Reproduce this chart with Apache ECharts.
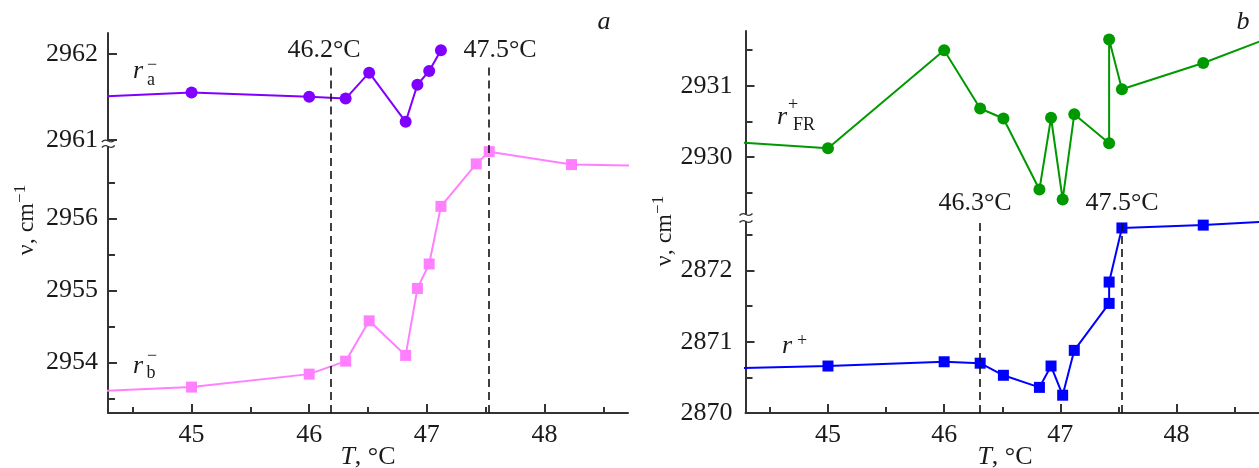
<!DOCTYPE html>
<html><head><meta charset="utf-8">
<script src="https://cdn.jsdelivr.net/npm/echarts@6/dist/echarts.min.js"></script>
<style>html,body{margin:0;padding:0;background:#fff}#c{width:1259px;height:468px}</style>
</head><body><div id="c"></div>
<script>
// ---- data (temperature in °C, wavenumber in cm^-1) ----
const T_A = [44.0, 45.0, 46.0, 46.31, 46.51, 46.82, 46.92, 47.02, 47.12];
const R_A = [2961.49, 2961.55, 2961.50, 2961.48, 2961.78, 2961.21, 2961.64, 2961.80, 2962.04];
const T_B = [44.0, 45.0, 46.0, 46.31, 46.51, 46.82, 46.92, 47.02, 47.12, 47.42, 47.53, 48.23, 49.0];
const R_B = [2953.59, 2953.66, 2953.84, 2954.02, 2954.58, 2954.10, 2955.03, 2955.37, 2956.17, 2956.76, 2956.93, 2956.75, 2956.73];
const T_PLUS = [44.0, 45.0, 46.0, 46.31, 46.51, 46.82, 46.92, 47.02, 47.12, 47.42, 47.42, 47.53, 48.23, 49.0];
const R_FR = [2930.23, 2930.12, 2931.50, 2930.68, 2930.54, 2929.54, 2930.55, 2929.40, 2930.60, 2930.19, 2931.65, 2930.95, 2931.32, 2931.80];
const R_PLUS = [2870.62, 2870.66, 2870.72, 2870.70, 2870.53, 2870.36, 2870.66, 2870.25, 2870.88, 2871.54, 2871.84, 2872.60, 2872.64, 2872.71];
const X_TICKS = [45, 46, 47, 48];
const X_MINOR = [44.5, 45.5, 46.5, 47.5, 48.5];
const YA_TICKS = [2961, 2962];
const YB_TICKS = [2954, 2955, 2956];
const YB_MINOR = [2953.5, 2954.5, 2955.5, 2956.5];
const YFR_TICKS = [2930, 2931];
const YFR_MINOR = [2929.5, 2930.5, 2931.5];
const YP_TICKS = [2870, 2871, 2872];
const YP_MINOR = [2870.5, 2871.5, 2872.5];
const TRANS_A = [46.18, 47.53];
const TRANS_A_LABELS = ['46.2°C', '47.5°C'];
const TRANS_B = [46.31, 47.53];
const TRANS_B_LABELS = ['46.3°C', '47.5°C'];

// ---- layout ----
const X_MIN = 44.29, X_MAX = 48.71;
const RANGES = {
  a: [2960.965, 2962.24],
  b: [2953.30, 2957.05],
  fr: [2929.14, 2931.77],
  p: [2870.0, 2872.74]
};
const FONT = 'Liberation Serif';
const INK = '#1a1a1a';
const AX = '#333';

const zip = (xs, ys) => xs.map((x, i) => [x, ys[i]]);
const plain = v => '{n|' + String(Math.round(v * 100) / 100) + '}';
const labelRich = {n: {fontFamily: FONT, fontSize: 26, color: INK, lineHeight: 28}};

const grids = [
  {left: 108, width: 520, top: 33, height: 110},
  {left: 108, width: 520, top: 143, height: 270},
  {left: 745.5, width: 520, top: 31, height: 187},
  {left: 745.5, width: 520, top: 218, height: 195}
];

function xMain(g) {
  return {type: 'value', gridIndex: g, min: X_MIN, max: X_MAX, position: 'bottom',
    axisLine: {show: true, onZero: false, lineStyle: {color: AX, width: 2}},
    axisTick: {show: true, inside: true, length: 9, customValues: X_TICKS, lineStyle: {color: AX, width: 2}},
    axisLabel: {show: true, customValues: X_TICKS, formatter: plain, rich: labelRich,
      fontFamily: FONT, fontSize: 26, color: INK, margin: 8},
    splitLine: {show: false}};
}
function xMinor(g) {
  return {type: 'value', gridIndex: g, min: X_MIN, max: X_MAX, position: 'bottom',
    axisLine: {show: false, onZero: false},
    axisTick: {show: true, inside: true, length: 6, customValues: X_MINOR, lineStyle: {color: AX, width: 2}},
    axisLabel: {show: false}, splitLine: {show: false}};
}
function xHidden(g) {
  return {type: 'value', gridIndex: g, min: X_MIN, max: X_MAX, show: false, splitLine: {show: false}};
}
function yMain(g, r, ticks, margin) {
  return {type: 'value', gridIndex: g, min: r[0], max: r[1], position: 'left',
    axisLine: {show: true, onZero: false, lineStyle: {color: AX, width: 2}},
    axisTick: {show: true, inside: true, length: 9, customValues: ticks, lineStyle: {color: AX, width: 2}},
    axisLabel: {show: true, customValues: ticks, formatter: plain, rich: labelRich,
      fontFamily: FONT, fontSize: 26, color: INK, margin: margin},
    splitLine: {show: false}};
}
function yMinor(g, r, ticks) {
  return {type: 'value', gridIndex: g, min: r[0], max: r[1], position: 'left',
    axisLine: {show: false, onZero: false},
    axisTick: {show: true, inside: true, length: 7, customValues: ticks, lineStyle: {color: AX, width: 2}},
    axisLabel: {show: false}, splitLine: {show: false}};
}

const dash = {color: '#111', width: 1.6, type: [8, 5]};

function lineSeries(xi, yi, data, color, symbol, size, extra) {
  return Object.assign({
    type: 'line', xAxisIndex: xi, yAxisIndex: yi, data: data, clip: true,
    symbol: symbol, symbolSize: size, showSymbol: true,
    lineStyle: {color: color, width: 2}, itemStyle: {color: color},
    animation: false, z: 3
  }, extra || {});
}

function vLines(xs, yTop, yBottom) {
  return {
    silent: true, symbol: 'none', label: {show: false}, lineStyle: dash, animation: false,
    data: xs.map(x => yTop === null ? {xAxis: x} : [{coord: [x, yTop]}, {coord: [x, yBottom]}])
  };
}

const option = {
  backgroundColor: '#fff',
  animation: false,
  textStyle: {fontFamily: FONT},
  grid: grids,
  xAxis: [xHidden(0), xMain(1), xMinor(1), xHidden(2), xMain(3), xMinor(3)],
  yAxis: [
    yMain(0, RANGES.a, YA_TICKS, 10),
    yMain(1, RANGES.b, YB_TICKS, 10), yMinor(1, RANGES.b, YB_MINOR),
    yMain(2, RANGES.fr, YFR_TICKS, 13), yMinor(2, RANGES.fr, YFR_MINOR),
    yMain(3, RANGES.p, YP_TICKS, 13), yMinor(3, RANGES.p, YP_MINOR)
  ],
  series: [
    lineSeries(0, 0, zip(T_A, R_A), '#7f00ff', 'circle', 12,
      {markLine: vLines(TRANS_A, 2961.84, RANGES.a[0])}),
    lineSeries(1, 1, zip(T_B, R_B), '#ff80ff', 'rect', 11,
      {markLine: vLines(TRANS_A, null)}),
    lineSeries(3, 3, zip(T_PLUS, R_FR), '#009900', 'circle', 12),
    lineSeries(4, 5, zip(T_PLUS, R_PLUS), '#0000ff', 'rect', 11,
      {markLine: vLines(TRANS_B, null)})
  ]
};

function txt(x, y, text, size, opts) {
  return Object.assign({type: 'text', x: x, y: y, silent: true, z: 10,
    style: Object.assign({text: text, fontFamily: FONT, fontSize: size, fill: INK,
      align: 'center', verticalAlign: 'middle'}, (opts && opts.style) || {})},
    opts && opts.el ? opts.el : {});
}
function it(x, y, text, size) { return txt(x, y, text, size, {style: {fontStyle: 'italic'}}); }

function breakMark(cx, y1, y2) {
  const w = 13;
  const wave = (y) => ({type: 'bezierCurve', silent: true, z: 12,
    shape: {x1: cx - w / 2, y1: y + 1, x2: cx + w / 2, y2: y - 1,
      cpx1: cx - 1, cpy1: y - 5, cpx2: cx + 1, cpy2: y + 5},
    style: {stroke: AX, lineWidth: 1.3, fill: null}});
  return [
    {type: 'rect', silent: true, z: 11, shape: {x: cx - 3, y: y1, width: 6, height: y2 - y1}, style: {fill: '#fff'}},
    wave(y1), wave(y2)
  ];
}

const axisNameStyle = {text: 'ν, cm{s|−1}',
  rich: {s: {fontFamily: FONT, fontSize: 17, fill: INK, verticalAlign: 'top', lineHeight: 30}},
  fontFamily: FONT, fontSize: 24, lineHeight: 30, fill: INK, align: 'center', verticalAlign: 'middle'};
const xNameStyle = {text: '{i|T}, °C',
  rich: {i: {fontStyle: 'italic', fontFamily: FONT, fontSize: 26, fill: INK}},
  fontFamily: FONT, fontSize: 26, fill: INK, align: 'center', verticalAlign: 'middle'};

const graphics = [
  // transition labels
  txt(324, 50, TRANS_A_LABELS[0], 26),
  txt(500, 50, TRANS_A_LABELS[1], 26),
  txt(975, 203, TRANS_B_LABELS[0], 26),
  txt(1122, 203, TRANS_B_LABELS[1], 26),
  // panel letters
  it(604, 22, 'a', 26),
  it(1243, 22, 'b', 26),
  // series labels
  it(138, 71, 'r', 26), txt(151, 80, 'a', 18), txt(152, 65, '−', 18),
  it(138, 366, 'r', 26), txt(151, 373, 'b', 18), txt(152, 356, '−', 18),
  it(782, 117, 'r', 26), txt(804, 125, 'FR', 18), txt(793, 105, '+', 18),
  it(787, 346, 'r', 26), txt(802, 341, '+', 18),
  // x axis names
  {type: 'text', x: 368, y: 457, silent: true, style: xNameStyle},
  {type: 'text', x: 1005, y: 457, silent: true, style: xNameStyle},
  // y axis names
  {type: 'text', x: 27, y: 220, rotation: Math.PI / 2, silent: true, style: axisNameStyle},
  {type: 'text', x: 665, y: 231, rotation: Math.PI / 2, silent: true, style: axisNameStyle}
].concat(breakMark(108.3, 141, 146.5), breakMark(746, 214.5, 221.5));

option.graphic = graphics;

const chart = echarts.init(document.getElementById('c'), null, {renderer: 'canvas'});
chart.setOption(option);
</script>
</body></html>
